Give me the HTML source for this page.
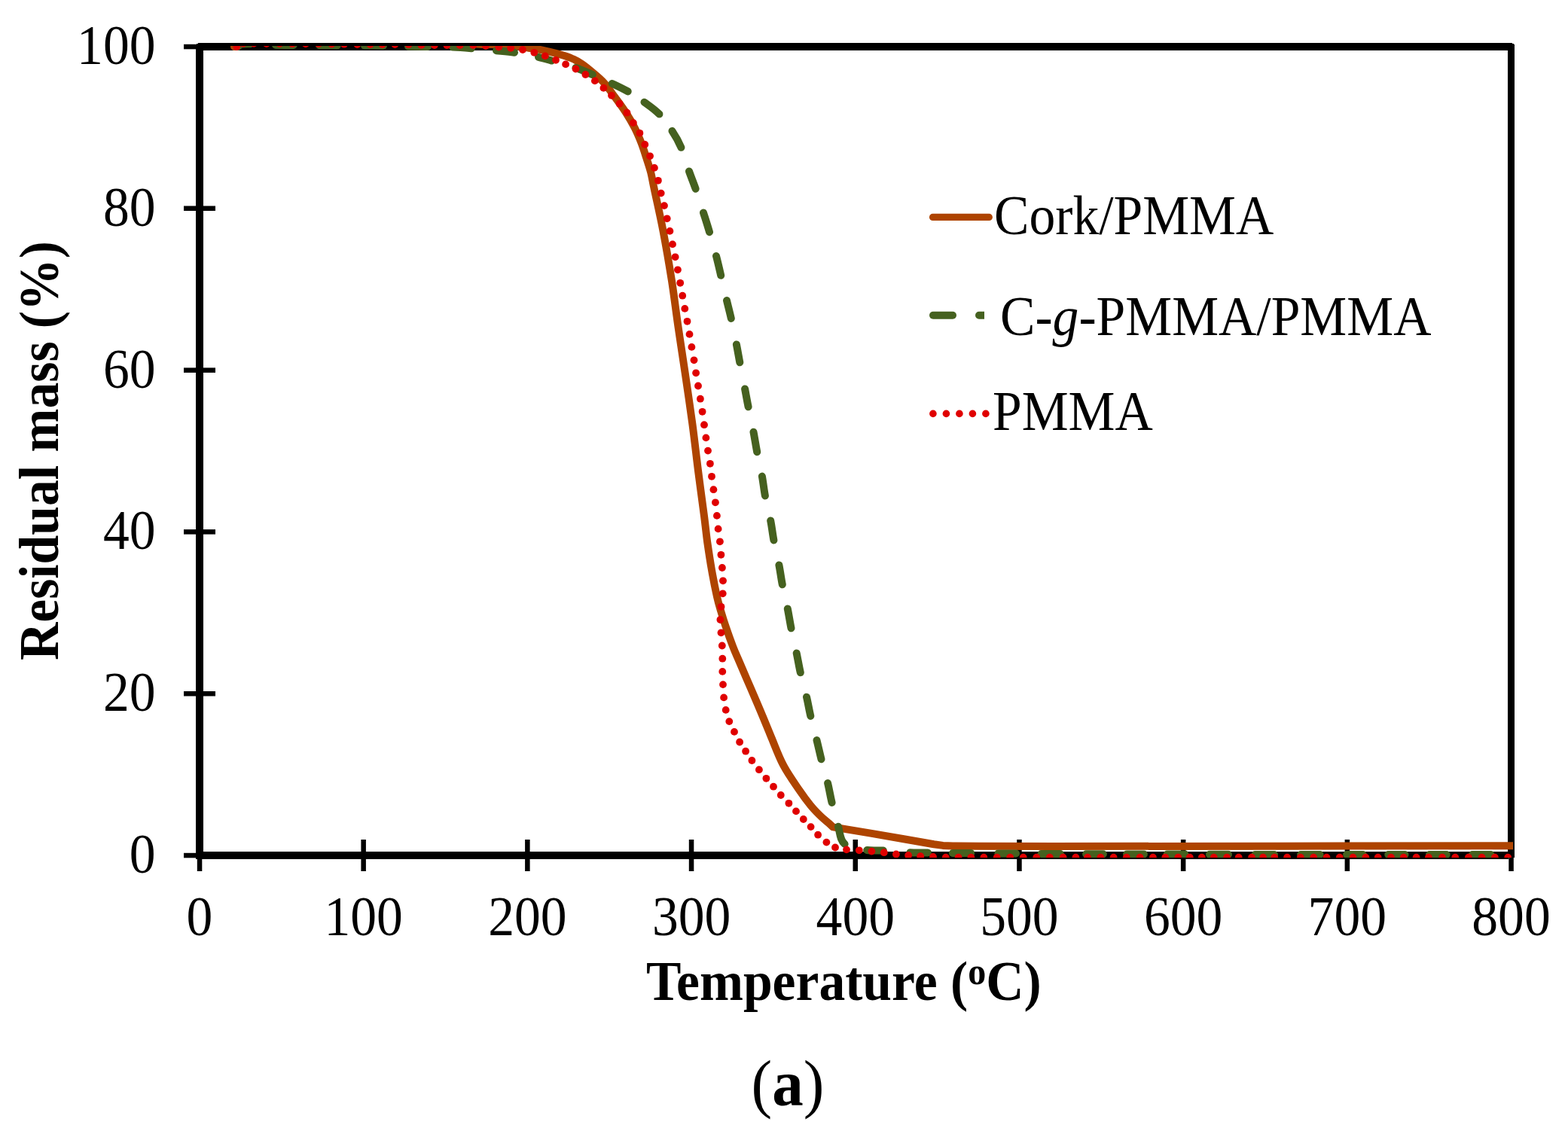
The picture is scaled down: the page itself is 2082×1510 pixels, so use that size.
<!DOCTYPE html><html><head><meta charset="utf-8"><title>Residual mass vs Temperature</title><style>html,body{margin:0;padding:0;background:#fff;}svg{display:block;}text{font-family:"Liberation Serif","Times New Roman",serif;fill:#000;}</style></head><body>
<svg width="2082" height="1510" viewBox="0 0 2082 1510">
<rect width="2082" height="1510" fill="#fff"/>
<defs><clipPath id="pc"><rect x="262" y="61" width="1747" height="1078"/></clipPath></defs>
<g fill="#000">
<rect x="260" y="59" width="10" height="1082"/>
<rect x="261" y="58" width="9" height="2"/>
<rect x="2002" y="59" width="9" height="1080"/>
<rect x="2002" y="58" width="8" height="2"/>
<rect x="263" y="57" width="1745" height="10"/>
<rect x="260" y="1131" width="1751" height="8"/>
<rect x="260" y="1139" width="1743" height="2"/>
<rect x="244" y="1132.8" width="42" height="6.5"/>
<rect x="244" y="918.0" width="42" height="6.5"/>
<rect x="244" y="703.1" width="42" height="6.5"/>
<rect x="244" y="488.4" width="42" height="6.5"/>
<rect x="244" y="273.5" width="42" height="6.5"/>
<rect x="244" y="58.8" width="42" height="6.5"/>
<rect x="261.8" y="1115" width="6.5" height="42"/>
<rect x="479.4" y="1115" width="6.5" height="42"/>
<rect x="697.1" y="1115" width="6.5" height="42"/>
<rect x="914.8" y="1115" width="6.5" height="42"/>
<rect x="1132.5" y="1115" width="6.5" height="42"/>
<rect x="1350.2" y="1115" width="6.5" height="42"/>
<rect x="1567.9" y="1115" width="6.5" height="42"/>
<rect x="1785.6" y="1115" width="6.5" height="42"/>
<rect x="2003.3" y="1115" width="6.5" height="42"/>
</g>
<g clip-path="url(#pc)" fill="none" stroke-linejoin="round">
<path d="M311.0,62.0 C312.2,61.4 314.8,59.6 318.0,58.5 C321.2,57.4 289.7,56.0 330.0,55.5 C370.3,55.0 513.3,55.2 560.0,55.5 C606.7,55.8 597.3,57.0 610.0,57.5 C622.7,58.0 628.8,58.5 636.0,58.8 C643.2,59.1 647.2,58.9 653.0,59.1 C658.8,59.3 665.5,59.4 671.0,59.8 C676.5,60.2 680.8,60.9 686.0,61.5 C691.2,62.1 696.5,62.9 702.0,63.7 C707.5,64.5 712.2,64.9 719.0,66.3 C725.8,67.7 736.5,70.3 743.0,72.1 C749.5,73.9 753.1,74.9 758.0,77.0 C762.9,79.1 767.6,81.6 772.5,84.9 C777.4,88.2 782.4,92.4 787.3,96.6 C792.2,100.8 796.9,104.4 801.9,109.9 C806.9,115.4 812.2,123.2 817.1,129.8 C822.0,136.4 827.0,143.1 831.2,149.7 C835.5,156.3 839.2,162.9 842.6,169.5 C846.0,176.1 848.8,182.8 851.4,189.4 C854.0,196.0 856.0,202.6 858.1,209.2 C860.2,215.8 862.5,222.3 864.2,229.1 C865.9,235.9 865.8,237.2 868.5,250.0 C871.2,262.9 876.5,285.8 880.4,306.2 C884.3,326.6 888.5,351.1 891.9,372.4 C895.2,393.7 897.5,413.4 900.5,434.0 C903.5,454.6 906.7,474.8 909.8,496.2 C912.9,517.6 916.4,541.0 919.3,562.5 C922.2,584.0 924.4,604.4 927.0,625.0 C929.6,645.6 933.1,670.4 935.1,686.2 C937.1,702.0 937.6,708.2 939.2,720.0 C940.9,731.8 942.9,745.0 945.0,757.0 C947.1,769.0 949.9,783.0 952.0,792.3 C954.1,801.6 955.6,806.2 957.5,812.7 C959.4,819.2 960.7,823.5 963.3,831.2 C965.9,838.9 970.2,851.0 973.3,859.0 C976.4,867.0 978.1,870.4 981.9,879.3 C985.7,888.2 991.4,901.4 996.2,912.5 C1001.0,923.6 1005.8,934.8 1010.5,946.0 C1015.2,957.2 1019.6,968.3 1024.5,980.0 C1029.4,991.7 1034.0,1004.7 1040.1,1016.2 C1046.2,1027.8 1055.3,1040.4 1061.3,1049.3 C1067.3,1058.2 1071.5,1063.8 1076.3,1069.6 C1081.0,1075.4 1085.7,1080.0 1089.8,1084.0 C1093.9,1088.0 1098.1,1091.2 1100.8,1093.6 C1103.5,1096.0 1105.2,1097.6 1106.1,1098.4 L1156.0,1106.6 L1200.0,1114.2 L1240.0,1121.2 L1252.0,1122.9 L1265.0,1123.6 L1300.0,1123.7 L1400.0,1124.0 L1700.0,1123.7 L2012.0,1123.2" stroke="#AE4400" stroke-width="10" stroke-linecap="round"/>
<path d="M316.0,62.0 C316.7,61.5 317.3,59.4 320.0,58.8 C322.7,58.2 330.0,58.4 332.0,58.3 M366.0,59.8 C373.9,59.9 381.8,59.9 389.7,60.0 M424.2,60.2 C432.1,60.3 439.9,60.3 447.8,60.4 M484.0,60.6 C492.3,60.6 500.7,60.6 509.0,60.7 M542.0,61.6 C550.7,61.8 559.3,61.9 568.0,62.0 M601.0,62.6 C609.3,62.9 617.7,63.6 626.0,64.3 M659.0,67.2 C667.0,68.0 675.0,68.6 683.0,69.8 M715.0,75.8 C720.9,77.1 726.7,78.9 732.5,80.6 M764.5,90.0 C772.1,92.6 779.4,96.0 786.8,99.2 M812.8,110.9 C819.8,114.2 827.0,117.5 833.7,121.4 M855.5,135.7 C862.4,140.7 869.5,145.5 875.4,151.6 M892.5,173.9 C897.1,180.8 901.2,188.1 904.4,195.8 M915.0,227.5 C917.7,235.3 920.9,242.9 923.6,250.7 M934.0,282.4 C936.7,291.0 939.5,299.6 942.0,308.2 M951.0,340.0 C953.3,348.6 955.2,357.2 957.2,365.8 M965.0,399.1 C966.9,407.0 969.0,414.9 970.8,422.9 M977.9,457.5 C979.5,465.4 980.8,473.4 982.3,481.3 M989.1,516.5 C990.6,524.4 992.0,532.4 993.6,540.3 M1000.5,573.7 C1002.2,582.5 1003.5,591.4 1005.2,600.2 M1011.9,632.6 C1013.5,641.2 1014.3,649.9 1015.9,658.4 M1023.2,691.5 C1024.9,700.1 1025.8,708.8 1027.4,717.4 M1034.4,750.5 C1036.1,759.1 1037.1,767.7 1038.8,776.3 M1045.8,808.5 C1047.5,817.1 1048.8,825.7 1050.5,834.3 M1057.7,867.4 C1059.5,876.0 1060.9,884.7 1062.8,893.2 M1071.0,925.7 C1073.0,934.1 1074.3,942.5 1076.3,950.9 M1084.5,983.1 C1086.6,991.5 1088.4,999.9 1090.5,1008.3 M1099.1,1040.1 C1101.2,1048.6 1102.5,1057.4 1104.6,1065.9 M1113.0,1097.7 C1115.4,1105.6 1115.2,1115.7 1121.6,1120.9 M1151.2,1129.0 C1158.3,1130.2 1165.6,1129.1 1172.8,1129.5 M1208.4,1132.2 C1216.3,1132.6 1224.1,1132.3 1232.0,1132.4 M1264.9,1133.0 C1273.0,1133.1 1281.1,1133.0 1289.2,1133.1 M1325.4,1133.4 C1333.3,1133.5 1341.1,1133.4 1349.0,1133.5 M1382.5,1134.0 C1391.0,1134.1 1399.4,1134.0 1407.9,1134.0 M1442.1,1134.2 C1449.7,1134.2 1457.3,1134.2 1464.9,1134.2 M1496.1,1134.4 C1503.7,1134.4 1511.3,1134.4 1518.9,1134.4 M1549.7,1134.6 C1557.6,1134.6 1565.6,1134.6 1573.5,1134.6 M1606.0,1134.8 C1614.3,1134.8 1622.7,1134.8 1631.0,1134.8 M1666.5,1135.0 C1675.0,1135.0 1683.5,1135.0 1692.0,1135.0 M1727.1,1135.0 C1735.6,1135.0 1744.1,1135.0 1752.6,1135.0 M1788.1,1135.0 C1795.3,1135.0 1802.6,1135.0 1809.8,1135.0 M1843.3,1135.0 C1850.7,1135.0 1858.1,1135.0 1865.5,1135.0 M1898.0,1135.0 C1905.6,1135.0 1913.1,1135.0 1920.7,1135.0 M1954.9,1135.0 C1963.1,1135.0 1971.3,1135.0 1979.5,1135.0" stroke="#45611F" stroke-width="10" stroke-linecap="round"/>
<g fill="#E00000" stroke="none">
<circle cx="314.4" cy="62.0" r="4.9"/>
<circle cx="323.0" cy="57.8" r="4.9"/>
<circle cx="337.0" cy="57.8" r="4.9"/>
<circle cx="353.9" cy="58.0" r="4.9"/>
<circle cx="371.2" cy="58.0" r="4.9"/>
<circle cx="388.0" cy="58.2" r="4.9"/>
<circle cx="405.8" cy="58.3" r="4.9"/>
<circle cx="423.0" cy="58.4" r="4.9"/>
<circle cx="440.3" cy="58.5" r="4.9"/>
<circle cx="457.0" cy="58.7" r="4.9"/>
<circle cx="474.4" cy="59.0" r="4.9"/>
<circle cx="491.6" cy="59.0" r="4.9"/>
<circle cx="507.5" cy="59.0" r="4.9"/>
<circle cx="524.4" cy="59.0" r="4.9"/>
<circle cx="542.5" cy="59.2" r="4.9"/>
<circle cx="559.4" cy="59.8" r="4.9"/>
<circle cx="576.9" cy="60.0" r="4.9"/>
<circle cx="593.4" cy="60.0" r="4.9"/>
<circle cx="610.7" cy="60.0" r="4.9"/>
<circle cx="628.3" cy="60.0" r="4.9"/>
<circle cx="645.0" cy="61.0" r="4.9"/>
<circle cx="662.3" cy="62.5" r="4.9"/>
<circle cx="678.2" cy="63.8" r="4.9"/>
<circle cx="694.0" cy="66.0" r="4.9"/>
<circle cx="709.3" cy="69.8" r="4.9"/>
<circle cx="723.8" cy="74.4" r="4.9"/>
<circle cx="738.0" cy="79.8" r="4.9"/>
<circle cx="751.1" cy="85.4" r="4.9"/>
<circle cx="764.5" cy="91.5" r="4.9"/>
<circle cx="777.4" cy="99.0" r="4.9"/>
<circle cx="789.9" cy="107.4" r="4.9"/>
<circle cx="801.4" cy="116.9" r="4.9"/>
<circle cx="812.0" cy="126.8" r="4.9"/>
<circle cx="822.6" cy="137.7" r="4.9"/>
<circle cx="832.5" cy="149.7" r="4.9"/>
<circle cx="840.9" cy="163.1" r="4.9"/>
<circle cx="849.4" cy="176.8" r="4.9"/>
<circle cx="856.3" cy="191.9" r="4.9"/>
<circle cx="863.0" cy="207.3" r="4.9"/>
<circle cx="868.9" cy="222.9" r="4.9"/>
<circle cx="873.9" cy="239.8" r="4.9"/>
<circle cx="877.7" cy="256.6" r="4.9"/>
<circle cx="882.0" cy="273.1" r="4.9"/>
<circle cx="885.7" cy="290.3" r="4.9"/>
<circle cx="889.4" cy="306.9" r="4.9"/>
<circle cx="893.0" cy="324.4" r="4.9"/>
<circle cx="896.6" cy="341.3" r="4.9"/>
<circle cx="899.9" cy="358.3" r="4.9"/>
<circle cx="903.2" cy="375.8" r="4.9"/>
<circle cx="906.2" cy="392.7" r="4.9"/>
<circle cx="909.3" cy="409.9" r="4.9"/>
<circle cx="912.5" cy="426.8" r="4.9"/>
<circle cx="915.5" cy="443.9" r="4.9"/>
<circle cx="918.4" cy="460.9" r="4.9"/>
<circle cx="921.5" cy="478.3" r="4.9"/>
<circle cx="924.1" cy="495.3" r="4.9"/>
<circle cx="927.0" cy="512.5" r="4.9"/>
<circle cx="929.9" cy="529.7" r="4.9"/>
<circle cx="932.6" cy="546.8" r="4.9"/>
<circle cx="935.0" cy="564.2" r="4.9"/>
<circle cx="937.4" cy="581.4" r="4.9"/>
<circle cx="940.0" cy="598.6" r="4.9"/>
<circle cx="942.9" cy="615.8" r="4.9"/>
<circle cx="945.0" cy="632.8" r="4.9"/>
<circle cx="947.4" cy="650.2" r="4.9"/>
<circle cx="949.9" cy="667.3" r="4.9"/>
<circle cx="951.9" cy="684.9" r="4.9"/>
<circle cx="953.6" cy="702.4" r="4.9"/>
<circle cx="955.9" cy="719.3" r="4.9"/>
<circle cx="957.4" cy="736.8" r="4.9"/>
<circle cx="958.9" cy="754.0" r="4.9"/>
<circle cx="960.0" cy="771.3" r="4.9"/>
<circle cx="959.7" cy="788.3" r="4.9"/>
<circle cx="957.5" cy="805.8" r="4.9"/>
<circle cx="956.4" cy="823.0" r="4.9"/>
<circle cx="957.5" cy="840.3" r="4.9"/>
<circle cx="958.8" cy="857.5" r="4.9"/>
<circle cx="959.3" cy="874.7" r="4.9"/>
<circle cx="959.3" cy="891.9" r="4.9"/>
<circle cx="960.0" cy="909.1" r="4.9"/>
<circle cx="961.1" cy="926.4" r="4.9"/>
<circle cx="963.7" cy="942.9" r="4.9"/>
<circle cx="968.3" cy="958.1" r="4.9"/>
<circle cx="975.0" cy="971.9" r="4.9"/>
<circle cx="982.1" cy="985.5" r="4.9"/>
<circle cx="990.1" cy="997.7" r="4.9"/>
<circle cx="998.4" cy="1010.0" r="4.9"/>
<circle cx="1007.9" cy="1022.2" r="4.9"/>
<circle cx="1017.4" cy="1033.8" r="4.9"/>
<circle cx="1027.0" cy="1044.7" r="4.9"/>
<circle cx="1036.8" cy="1056.0" r="4.9"/>
<circle cx="1047.4" cy="1066.8" r="4.9"/>
<circle cx="1057.0" cy="1077.4" r="4.9"/>
<circle cx="1066.8" cy="1088.0" r="4.9"/>
<circle cx="1076.6" cy="1098.1" r="4.9"/>
<circle cx="1086.1" cy="1108.7" r="4.9"/>
<circle cx="1097.4" cy="1118.6" r="4.9"/>
<circle cx="1109.0" cy="1125.5" r="4.9"/>
<circle cx="1124.0" cy="1128.4" r="4.9"/>
<circle cx="1140.8" cy="1129.3" r="4.9"/>
<circle cx="1157.4" cy="1130.6" r="4.9"/>
<circle cx="1173.8" cy="1132.2" r="4.9"/>
<circle cx="1189.9" cy="1134.5" r="4.9"/>
<circle cx="1206.1" cy="1136.0" r="4.9"/>
<circle cx="1222.2" cy="1137.2" r="4.9"/>
<circle cx="1239.0" cy="1138.0" r="4.9"/>
<circle cx="1255.8" cy="1138.7" r="4.9"/>
<circle cx="1272.6" cy="1138.7" r="4.9"/>
<circle cx="1289.4" cy="1138.7" r="4.9"/>
<circle cx="1306.3" cy="1138.7" r="4.9"/>
<circle cx="1323.7" cy="1138.7" r="4.9"/>
<circle cx="1341.2" cy="1138.7" r="4.9"/>
<circle cx="1358.7" cy="1138.7" r="4.9"/>
<circle cx="1376.2" cy="1138.7" r="4.9"/>
<circle cx="1393.8" cy="1138.7" r="4.9"/>
<circle cx="1411.6" cy="1138.7" r="4.9"/>
<circle cx="1428.4" cy="1138.7" r="4.9"/>
<circle cx="1444.0" cy="1138.7" r="4.9"/>
<circle cx="1461.3" cy="1138.7" r="4.9"/>
<circle cx="1478.6" cy="1138.7" r="4.9"/>
<circle cx="1495.8" cy="1138.7" r="4.9"/>
<circle cx="1513.6" cy="1138.7" r="4.9"/>
<circle cx="1530.9" cy="1138.7" r="4.9"/>
<circle cx="1547.3" cy="1138.7" r="4.9"/>
<circle cx="1564.3" cy="1138.7" r="4.9"/>
<circle cx="1579.8" cy="1138.7" r="4.9"/>
<circle cx="1595.8" cy="1138.7" r="4.9"/>
<circle cx="1611.8" cy="1138.7" r="4.9"/>
<circle cx="1629.1" cy="1138.7" r="4.9"/>
<circle cx="1644.7" cy="1138.7" r="4.9"/>
<circle cx="1662.0" cy="1138.7" r="4.9"/>
<circle cx="1677.1" cy="1138.7" r="4.9"/>
<circle cx="1692.2" cy="1138.7" r="4.9"/>
<circle cx="1709.1" cy="1138.7" r="4.9"/>
<circle cx="1726.9" cy="1138.7" r="4.9"/>
<circle cx="1744.2" cy="1138.7" r="4.9"/>
<circle cx="1761.5" cy="1138.7" r="4.9"/>
<circle cx="1778.8" cy="1138.7" r="4.9"/>
<circle cx="1796.5" cy="1138.7" r="4.9"/>
<circle cx="1813.4" cy="1138.7" r="4.9"/>
<circle cx="1829.7" cy="1138.7" r="4.9"/>
<circle cx="1847.0" cy="1138.7" r="4.9"/>
<circle cx="1863.8" cy="1138.7" r="4.9"/>
<circle cx="1880.6" cy="1138.7" r="4.9"/>
<circle cx="1896.9" cy="1138.7" r="4.9"/>
<circle cx="1915.0" cy="1138.7" r="4.9"/>
<circle cx="1932.3" cy="1138.7" r="4.9"/>
<circle cx="1949.9" cy="1138.7" r="4.9"/>
<circle cx="1967.6" cy="1138.7" r="4.9"/>
<circle cx="1984.9" cy="1138.7" r="4.9"/>
<circle cx="2002.2" cy="1138.7" r="4.9"/>
</g>
</g>
<text transform="translate(206.5,1159.0) scale(1,1.050)" font-size="69.6" font-weight="normal" text-anchor="end">0</text>
<text transform="translate(206.5,944.2) scale(1,1.050)" font-size="69.6" font-weight="normal" text-anchor="end">20</text>
<text transform="translate(206.5,729.4) scale(1,1.050)" font-size="69.6" font-weight="normal" text-anchor="end">40</text>
<text transform="translate(206.5,514.6) scale(1,1.050)" font-size="69.6" font-weight="normal" text-anchor="end">60</text>
<text transform="translate(206.5,299.8) scale(1,1.050)" font-size="69.6" font-weight="normal" text-anchor="end">80</text>
<text transform="translate(206.5,85.0) scale(1,1.050)" font-size="69.6" font-weight="normal" text-anchor="end">100</text>
<text transform="translate(265.0,1241.5) scale(1,1.050)" font-size="69.6" font-weight="normal" text-anchor="middle">0</text>
<text transform="translate(482.7,1241.5) scale(1,1.050)" font-size="69.6" font-weight="normal" text-anchor="middle">100</text>
<text transform="translate(700.4,1241.5) scale(1,1.050)" font-size="69.6" font-weight="normal" text-anchor="middle">200</text>
<text transform="translate(918.1,1241.5) scale(1,1.050)" font-size="69.6" font-weight="normal" text-anchor="middle">300</text>
<text transform="translate(1135.8,1241.5) scale(1,1.050)" font-size="69.6" font-weight="normal" text-anchor="middle">400</text>
<text transform="translate(1353.4,1241.5) scale(1,1.050)" font-size="69.6" font-weight="normal" text-anchor="middle">500</text>
<text transform="translate(1571.1,1241.5) scale(1,1.050)" font-size="69.6" font-weight="normal" text-anchor="middle">600</text>
<text transform="translate(1788.8,1241.5) scale(1,1.050)" font-size="69.6" font-weight="normal" text-anchor="middle">700</text>
<text transform="translate(2006.5,1241.5) scale(1,1.050)" font-size="69.6" font-weight="normal" text-anchor="middle">800</text>
<text transform="translate(858.0,1328.0) scale(1,1.050)" font-size="69.6" font-weight="bold" text-anchor="start">Temperature (<tspan font-size="48" dy="-20">o</tspan><tspan dy="20">C)</tspan></text>
<text transform="translate(77,877) rotate(-90) scale(1,1.050)" font-size="69.6" font-weight="bold">Residual mass (%)</text>
<line x1="1238.5" y1="288.4" x2="1313.3" y2="288.4" stroke="#AE4400" stroke-width="9.2" stroke-linecap="round"/>
<text transform="translate(1320.0,310.7) scale(1,1.050)" font-size="69.6" font-weight="normal" text-anchor="start">Cork/PMMA</text>
<line x1="1239" y1="418.8" x2="1265" y2="418.8" stroke="#45611F" stroke-width="10" stroke-linecap="round"/>
<path d="M1307,413.8 L1300,413.8 A5,5 0 0 0 1300,423.8 L1307,423.8 Z" fill="#45611F"/>
<text transform="translate(1328.0,445.2) scale(1,1.050)" font-size="69.6" font-weight="normal" text-anchor="start">C-<tspan font-style="italic">g</tspan>-PMMA/PMMA</text>
<circle cx="1238.9" cy="549.4" r="4.8" fill="#E00000"/>
<circle cx="1256.4" cy="549.4" r="4.8" fill="#E00000"/>
<circle cx="1273.9" cy="549.4" r="4.8" fill="#E00000"/>
<circle cx="1291.4" cy="549.4" r="4.8" fill="#E00000"/>
<circle cx="1308.9" cy="549.4" r="4.8" fill="#E00000"/>
<text transform="translate(1318.0,571.3) scale(1,1.050)" font-size="69.6" font-weight="normal" text-anchor="start">PMMA</text>
<text transform="translate(997.5,1468) scale(1,1.050)" font-size="83">(<tspan font-weight="bold">a</tspan>)</text>
</svg></body></html>
